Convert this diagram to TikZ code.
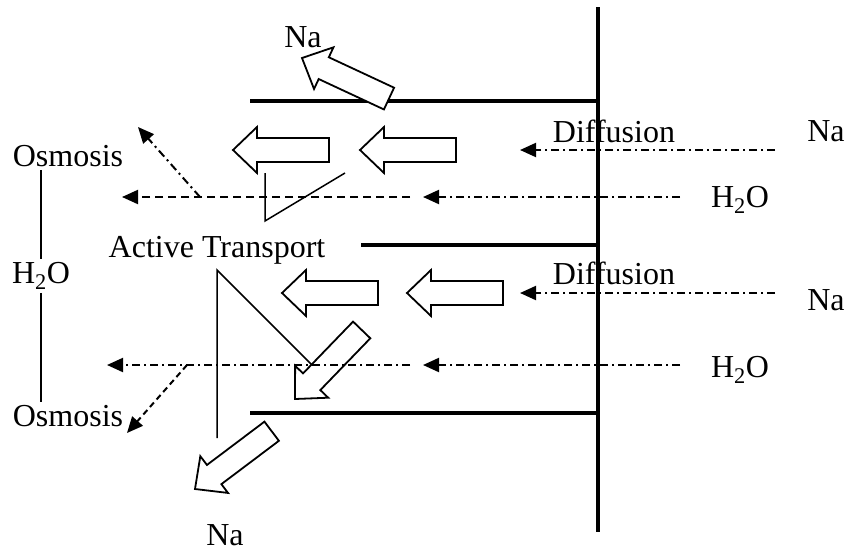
\documentclass[tikz,border=0pt]{standalone}
\usepackage{fontspec}
\setmainfont{Liberation Serif}
\usetikzlibrary{arrows.meta}

% hollow block arrow: tip at #1, tail pointing to angle #2
\newcommand{\blockarrow}[2]{%
  \draw[blockarr, shift={#1}, rotate=#2] (0,0) -- (24,23) -- (24,12) -- (96,12)
    -- (96,-12) -- (24,-12) -- (24,-23) -- cycle;}

\begin{document}
\begin{tikzpicture}[x=1pt, y=-1pt, >={Triangle[length=16pt, width=14pt]},
    lbl/.style={font=\fontsize{32}{36}\selectfont, inner sep=3pt},
    wall/.style={line width=4pt},
    tline/.style={line width=1.5pt},
    blockarr/.style={draw, fill=white, line width=1.8pt, line join=miter},
    dashdot/.style={line width=2pt, dash pattern=on 8pt off 4pt on 2pt off 4pt},
    dashln/.style={line width=2pt, dash pattern=on 8pt off 5pt}]
    \useasboundingbox (0,0) rectangle (850,552);

    % Membrane walls
    \draw[wall] (598,7) -- (598,532);
    \draw[wall] (250,101) -- (598,101);
    \draw[wall] (361,245) -- (598,245);
    \draw[wall] (250,413) -- (598,413);

    % Block arrows (tip, angle)
    \coordinate (bTop) at (302,58);
    \coordinate (bA) at (233,150);
    \coordinate (bB) at (360,150);
    \coordinate (bC) at (282,293);
    \coordinate (bD) at (407,293);
    \coordinate (bDiag) at (295,399);
    \coordinate (bBot) at (195,489);
    \blockarrow{(bTop)}{-25}
    \blockarrow{(bA)}{0}
    \blockarrow{(bB)}{0}
    \blockarrow{(bC)}{0}
    \blockarrow{(bD)}{0}
    \blockarrow{(bDiag)}{46}
    \blockarrow{(bBot)}{37}

    % Diffusion and water flow
    \coordinate (na1s) at (775,150);
    \coordinate (na1e) at (520,150);
    \coordinate (w1s) at (680,197);
    \coordinate (w1e) at (423,197);
    \coordinate (w1m) at (410,197);
    \coordinate (w1l) at (122,197);
    \coordinate (na2s) at (775,293);
    \coordinate (na2e) at (520,293);
    \coordinate (w2s) at (680,365);
    \coordinate (w2e) at (423,365);
    \coordinate (w2m) at (410,365);
    \coordinate (w2l) at (107,365);
    \draw[dashdot, ->] (na1s) -- (na1e);
    \draw[dashdot, ->] (w1s) -- (w1e);
    \draw[dashln, ->] (w1m) -- (w1l);
    \draw[dashdot, ->] (na2s) -- (na2e);
    \draw[dashdot, ->] (w2s) -- (w2e);
    \draw[dashdot, ->] (w2m) -- (w2l);

    % Osmosis branches
    \coordinate (o1s) at (200,197);
    \coordinate (o1e) at (138,127);
    \coordinate (o2s) at (187,365);
    \coordinate (o2e) at (127,433);
    \draw[dashdot, ->] (o1s) -- (o1e);
    \draw[dashln, dash pattern=on 6pt off 4pt, ->] (o2s) -- (o2e);

    % Active transport marks
    \coordinate (at1a) at (265,173);
    \coordinate (at1b) at (265,221);
    \coordinate (at1c) at (345,173);
    \draw[tline] (at1a) -- (at1b) -- (at1c);
    \coordinate (at2a) at (217,270);
    \coordinate (at2b) at (217,438);
    \coordinate (at2c) at (312,365);
    \draw[tline] (at2c) -- (at2a) -- (at2b);

    % Labels
    \node[lbl] (naTop) at (303,37) {Na};
    \node[lbl] (osmTop) at (68,156) {Osmosis};
    \node[lbl] (waterL) at (41,276) {H\textsubscript{2}O};
    \node[lbl] (osmBot) at (68,416) {Osmosis};
    \node[lbl] (active) at (217,250) {Active Transport};
    \node[lbl] (diff1) at (614,131) {Diffusion};
    \node[lbl] (na1) at (826,131) {Na};
    \node[lbl] (h2o1) at (740,200) {H\textsubscript{2}O};
    \node[lbl] (diff2) at (614,273) {Diffusion};
    \node[lbl] (na2) at (826,300) {Na};
    \node[lbl] (h2o2) at (740,370) {H\textsubscript{2}O};
    \node[lbl] (naBot) at (225,535) {Na};

    % H2O bracket
    \draw[tline] (osmTop.south -| waterL) -- (waterL.north);
    \draw[tline] (waterL.south) -- (waterL.south |- osmBot.north);
\end{tikzpicture}
\end{document}
